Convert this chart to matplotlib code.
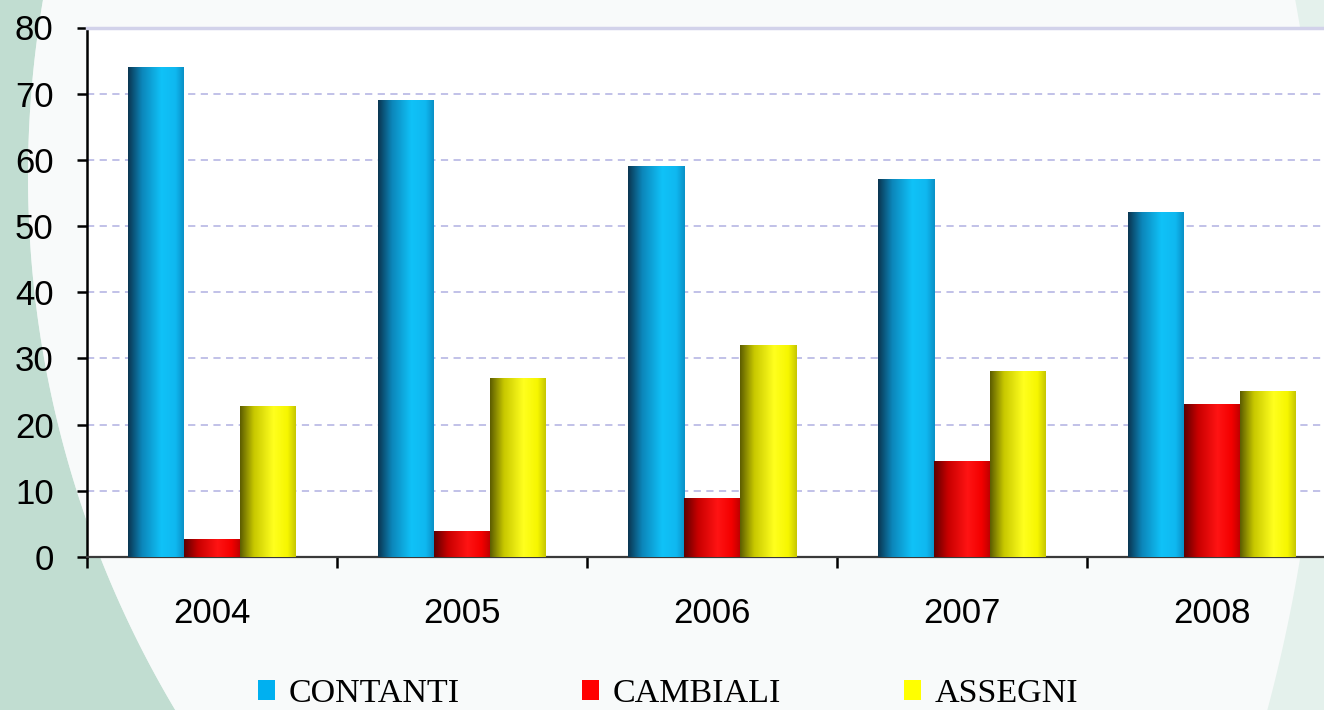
import matplotlib
matplotlib.use("Agg")
import matplotlib.pyplot as plt
import numpy as np
from matplotlib.colors import LinearSegmentedColormap, to_rgb
from matplotlib.patches import Patch

# Data
years = ["2004", "2005", "2006", "2007", "2008"]
contanti = [74, 69, 59, 57, 52]
cambiali = [2.7, 3.8, 8.8, 14.5, 23]
assegni = [22.7, 27, 32, 28, 25]

series = [("CONTANTI", contanti), ("CAMBIALI", cambiali), ("ASSEGNI", assegni)]
legend_colors = ["#00b0f0", "#ff0000", "#ffff00"]

# cylinder-like shading across each bar (left -> right)
shades = [
    ["#0a3550", "#0c86ba", "#10c2f8", "#0fb8f0", "#0a90c6"],
    ["#5e0000", "#c80000", "#ff1414", "#f40000", "#c00000"],
    ["#5c5c00", "#c8c800", "#ffff1e", "#f6f600", "#c6c600"],
]

W, H = 1324, 710
fig = plt.figure(figsize=(W / 100, H / 100), dpi=100)
fig.patch.set_facecolor("#e4f1ec")

# Background decoration in pixel coordinates
bg = fig.add_axes([0, 0, 1, 1], zorder=-10)
bg.set_xlim(0, W)
bg.set_ylim(H, 0)
bg.axis("off")
yy = np.linspace(0, H, 300)
left_edge = 1070 - np.sqrt(1042 ** 2 - (yy - 176) ** 2)
right_edge = -296 + np.sqrt(1618 ** 2 - (yy - 293) ** 2)
bg.fill_betweenx(yy, 0, left_edge, color="#c1ddd1", lw=0)
bg.fill_betweenx(yy, left_edge, right_edge, color="#f8fafa", lw=0)

ax = fig.add_axes([87 / W, 153 / H, 1250 / W, 529.5 / H])
ax.set_facecolor("white")

width = 0.224
x = np.arange(len(years)) + 0.5
offsets = [-width, 0, width]
pos = np.linspace(0, 1, 256)
for (name, vals), off, sh in zip(series, offsets, shades):
    cmap = LinearSegmentedColormap.from_list(
        name, list(zip([0, 0.25, 0.6, 0.85, 1.0], [to_rgb(c) for c in sh])))
    bars = ax.bar(x + off, vals, width=width, color="none", zorder=3)
    for b in bars:
        x0, y0 = b.get_x(), b.get_y()
        ax.imshow(pos[np.newaxis, :], cmap=cmap, aspect="auto",
                  extent=[x0, x0 + b.get_width(), y0, y0 + b.get_height()],
                  zorder=3, interpolation="bilinear")

ax.set_xlim(0, 5)
ax.set_ylim(0, 80)
ax.set_yticks(np.arange(0, 81, 10))
ax.yaxis.grid(True, color="#bcbce6", linestyle=(0, (4, 3)), linewidth=1.3, zorder=1)
ax.set_axisbelow(True)

ax.set_xticks(np.arange(0, 5))
ax.set_xticklabels([])
ax.set_xticks(x, minor=True)
ax.set_xticklabels(years, minor=True)
ax.tick_params(axis="x", which="major", direction="out", length=8, width=1.8, color="black")
ax.tick_params(axis="x", which="minor", length=0, pad=29, labelsize=25)
ax.tick_params(axis="y", direction="out", length=7, width=1.8, pad=17, labelsize=25)
for lab in ax.get_xticklabels(minor=True) + ax.get_yticklabels():
    lab.set_family("Liberation Sans")

ax.spines["left"].set_linewidth(1.8)
ax.spines["left"].set_color("black")
ax.spines["bottom"].set_linewidth(1.6)
ax.spines["bottom"].set_color("#3a3a3a")
ax.spines["top"].set_color("#d2d2ea")
ax.spines["top"].set_linewidth(2.5)
ax.spines["right"].set_visible(False)

handles = [Patch(facecolor=c, edgecolor="none") for c in legend_colors]
fig.legend(handles, [s[0] for s in series], loc="center left",
           bbox_to_anchor=(258 / W, 16 / H), ncol=3, frameon=False,
           borderpad=0, borderaxespad=0, handlelength=0.5, handleheight=0.5,
           handletextpad=0.4, columnspacing=3.6,
           prop={"family": "Liberation Serif", "size": 24.5})

fig.savefig("out.png", dpi=100, facecolor=fig.get_facecolor())
